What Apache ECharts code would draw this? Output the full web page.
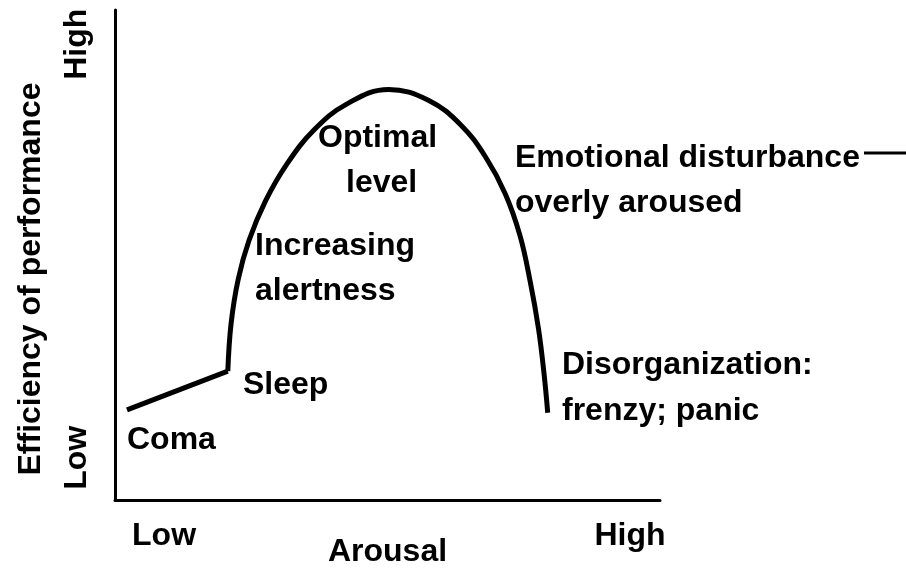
<!DOCTYPE html>
<html>
<head>
<meta charset="utf-8">
<script src="https://cdn.jsdelivr.net/npm/echarts@6/dist/echarts.min.js"></script>
<style>
  html, body { margin: 0; padding: 0; background: #fff; }
  #chart { width: 906px; height: 571px; }
</style>
</head>
<body>
<div id="chart"></div>
<script>
// arousal (0-100) vs efficiency (0-100)
const comaLine = [[2.2, 18.4], [20.7, 26.3]]
const arousalCurve = [
  [20.7, 26.3], [21.3, 36.0], [22.6, 45.0], [24.6, 53.0],
  [27.6, 61.0], [31.5, 68.5], [36.5, 75.5], [42.5, 80.8], [50.2, 83.8],
  [57.5, 81.6], [63.5, 76.5], [68.0, 70.0], [71.6, 62.5],
  [74.3, 54.0], [76.2, 44.5], [77.7, 35.0], [78.7, 26.0], [79.4, 17.8]
]
const xTickValues = [9, 94.5]
const xTickLabels = ['Low', 'High']
const yTickValues = [8.6, 93]
const yTickLabels = ['Low', 'High']

const font = '"Liberation Sans", Arial, sans-serif'
const txt = (left, top, text) => ({
  type: 'text',
  left,
  top,
  style: { text, font: 'bold 32px ' + font, fill: '#000', lineHeight: 45 }
})

const chart = echarts.init(document.getElementById('chart'))
const option = {
  backgroundColor: '#fff',
  animation: false,
  grid: { left: 115, right: 246, top: 10, bottom: 71, outerBoundsMode: 'none' },
  xAxis: {
    type: 'value',
    min: 0,
    max: 100,
    name: 'Arousal',
    nameLocation: 'middle',
    nameGap: 36,
    nameMoveOverlap: false,
    nameTextStyle: { fontFamily: font, fontWeight: 'bold', fontSize: 32, color: '#000' },
    splitLine: { show: false },
    axisTick: { show: false },
    axisLine: { lineStyle: { color: '#000', width: 3 } },
    axisLabel: {
      customValues: xTickValues,
      formatter: (v) => xTickLabels[xTickValues.indexOf(v)],
      margin: 20,
      fontFamily: font,
      fontWeight: 'bold',
      fontSize: 32,
      color: '#000'
    }
  },
  yAxis: {
    type: 'value',
    min: 0,
    max: 100,
    name: 'Efficiency of performance',
    nameLocation: 'middle',
    nameGap: 68,
    nameMoveOverlap: false,
    nameTextStyle: {
      fontFamily: font, fontWeight: 'bold', fontSize: 32, color: '#000',
      padding: [0, 48, 0, 0]
    },
    splitLine: { show: false },
    axisTick: { show: false },
    axisLine: { lineStyle: { color: '#000', width: 3 } },
    axisLabel: {
      customValues: yTickValues,
      formatter: (v) => yTickLabels[yTickValues.indexOf(v)],
      rotate: 90,
      margin: 22,
      fontFamily: font,
      fontWeight: 'bold',
      fontSize: 32,
      color: '#000'
    }
  },
  series: [
    {
      type: 'line',
      data: comaLine,
      symbol: 'none',
      lineStyle: { color: '#000', width: 5 }
    },
    {
      type: 'line',
      data: arousalCurve,
      symbol: 'none',
      smooth: 0.4,
      lineStyle: { color: '#000', width: 5 }
    }
  ],
  graphic: [
    txt(318, 116, 'Optimal'),
    txt(346, 161, 'level'),
    txt(515, 136, 'Emotional disturbance'),
    txt(515, 181, 'overly aroused'),
    txt(255, 224, 'Increasing'),
    txt(255, 269, 'alertness'),
    txt(243, 363, 'Sleep'),
    txt(562, 343, 'Disorganization:'),
    txt(562, 389, 'frenzy; panic'),
    txt(127, 418, 'Coma'),
    {
      type: 'line',
      shape: { x1: 864, y1: 153, x2: 906, y2: 153 },
      style: { stroke: '#000', lineWidth: 3 }
    }
  ]
}
chart.setOption(option)
</script>
</body>
</html>
